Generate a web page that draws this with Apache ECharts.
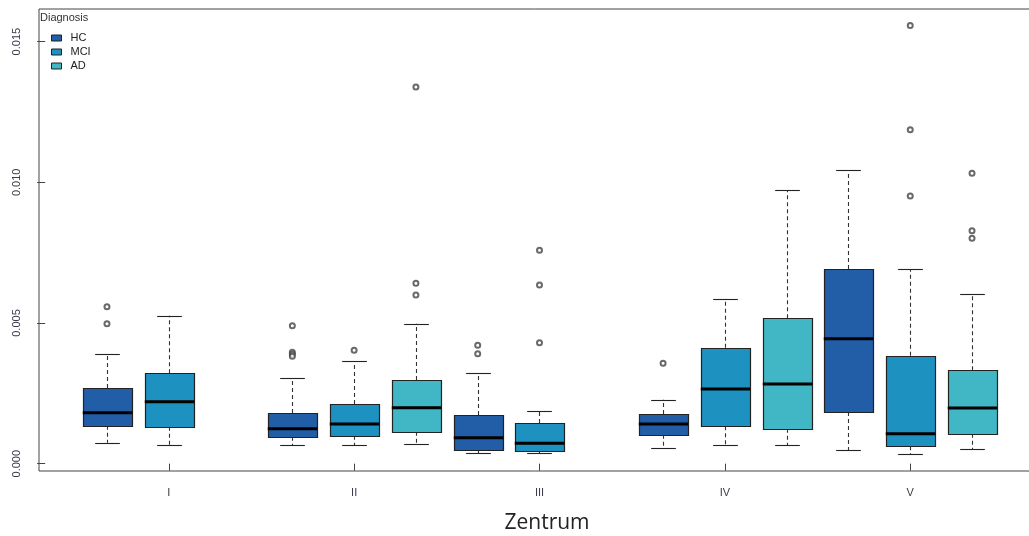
<!DOCTYPE html>
<html>
<head>
<meta charset="utf-8">
<script src="https://cdn.jsdelivr.net/npm/echarts@6/dist/echarts.min.js"></script>
<style>
html,body{margin:0;padding:0;background:#fff;}
#chart{width:1029px;height:536px;}
</style>
</head>
<body>
<div id="chart"></div>
<script>
// ---------- data ----------
const zentren = ['I', 'II', 'III', 'IV', 'V'];
const diagnoses = ['HC', 'MCI', 'AD'];
// [lower whisker, Q1, median, Q3, upper whisker] per Zentrum (null = no group)
const hcStats = [
  [0.000746, 0.001351, 0.001813, 0.002691, 0.003889],
  [0.000654, 0.000960, 0.001244, 0.001800, 0.003046],
  [0.000380, 0.000498, 0.000924, 0.001730, 0.003213],
  [0.000569, 0.001031, 0.001410, 0.001767, 0.002275],
  [0.000476, 0.001838, 0.004443, 0.006920, 0.010430]
];
const mciStats = [
  [0.000654, 0.001315, 0.002204, 0.003213, 0.005260],
  [0.000654, 0.000995, 0.001410, 0.002120, 0.003650],
  [0.000380, 0.000462, 0.000725, 0.001447, 0.001873],
  [0.000665, 0.001329, 0.002655, 0.004123, 0.005854],
  [0.000345, 0.000618, 0.001066, 0.003839, 0.006910]
];
const adStats = [
  null,
  [0.000690, 0.001137, 0.001990, 0.002975, 0.004976],
  null,
  [0.000665, 0.001244, 0.002833, 0.005168, 0.009730],
  [0.000512, 0.001066, 0.001980, 0.003320, 0.006030]
];
const hcOutliers = [[0.00558, 0.004976], [0.004905, 0.00396, 0.00389, 0.00382], [0.004208, 0.00391], [0.00357], []];
const mciOutliers = [[], [0.00403], [0.007585, 0.00635, 0.0043], [], [0.01557, 0.01187, 0.009515]];
const adOutliers = [[], [0.01339, 0.00641, 0.005996], [], [], [0.01032, 0.00828, 0.00801]];
const yTicks = [0, 0.005, 0.010, 0.015];

// ---------- build ----------
const colors = ['#225ea8', '#1d91c0', '#41b6c4'];
const allStats = [hcStats, mciStats, adStats];
const allOutliers = [hcOutliers, mciOutliers, adOutliers];
const xTicks = zentren.map((z, i) => 3 * i + 2);

function renderBox(params, api) {
  const x = api.value(0);
  const lo = api.coord([x, api.value(1)]);
  const q1 = api.coord([x, api.value(2)]);
  const md = api.coord([x, api.value(3)]);
  const q3 = api.coord([x, api.value(4)]);
  const hi = api.coord([x, api.value(5)]);
  const half = api.size([0.4, 0])[0];
  const cx = Math.round(lo[0]) + 0.5;
  const capH = half / 2;
  const fill = api.visual('color');
  const dashStyle = { stroke: '#333', lineWidth: 1.1, lineDash: [4, 3] };
  const solid = { stroke: '#222', lineWidth: 1.1 };
  return {
    type: 'group',
    children: [
      { type: 'line', shape: { x1: cx, y1: q3[1], x2: cx, y2: hi[1] }, style: dashStyle },
      { type: 'line', shape: { x1: cx, y1: q1[1], x2: cx, y2: lo[1] }, style: dashStyle },
      { type: 'line', shape: { x1: cx - capH, y1: Math.round(hi[1]) + 0.5, x2: cx + capH, y2: Math.round(hi[1]) + 0.5 }, style: solid },
      { type: 'line', shape: { x1: cx - capH, y1: Math.round(lo[1]) + 0.5, x2: cx + capH, y2: Math.round(lo[1]) + 0.5 }, style: solid },
      { type: 'rect', shape: { x: Math.round(cx - half) + 0.5, y: Math.round(q3[1]) + 0.5, width: Math.round(2 * half), height: Math.round(q1[1]) - Math.round(q3[1]) },
        style: { fill: fill, stroke: '#222', lineWidth: 1.2 } },
      { type: 'line', shape: { x1: cx - half, y1: md[1], x2: cx + half, y2: md[1] }, style: { stroke: '#000', lineWidth: 3 } }
    ]
  };
}

const series = [];
diagnoses.forEach((d, j) => {
  const data = [];
  allStats[j].forEach((s, i) => {
    if (s) data.push([3 * i + j + 1].concat(s));
  });
  series.push({
    name: d,
    type: 'custom',
    renderItem: renderBox,
    itemStyle: { color: colors[j] },
    encode: { x: 0, y: [1, 2, 3, 4, 5] },
    data: data,
    z: 2
  });
  const out = [];
  allOutliers[j].forEach((arr, i) => arr.forEach(v => out.push([3 * i + j + 1, v])));
  series.push({
    name: d + ' outliers',
    type: 'scatter',
    symbol: 'emptyCircle',
    symbolSize: 5,
    itemStyle: { color: '#444', borderColor: '#444', borderWidth: 1 },
    data: out,
    z: 3
  });
});

const chart = echarts.init(document.getElementById('chart'), null, { renderer: 'canvas' });
chart.setOption({
  animation: false,
  backgroundColor: '#fff',
  textStyle: { fontFamily: 'Liberation Sans, Arial, sans-serif' },
  grid: { left: 39, top: 9, bottom: 65, right: -11, show: true, borderColor: '#444', borderWidth: 1, containLabel: false, outerBoundsMode: 'none' },
  legend: {
    data: diagnoses,
    orient: 'vertical',
    left: 51, top: 31, padding: 0,
    itemWidth: 10, itemHeight: 6, itemGap: 0,
    icon: 'rect',
    itemStyle: { borderColor: '#222', borderWidth: 1 },
    textStyle: { fontSize: 11, color: '#222', lineHeight: 14, padding: [0, 0, 0, 4], fontFamily: 'Liberation Sans, Arial, sans-serif' },
    selectedMode: false
  },
  xAxis: {
    type: 'value', min: -0.1, max: 16.1,
    splitLine: { show: false },
    axisLine: { show: false },
    axisTick: { show: true, length: 7, lineStyle: { color: '#444' }, customValues: xTicks },
    axisLabel: { customValues: xTicks, margin: 16, fontSize: 11, color: '#3a3a4a',
      formatter: v => zentren[Math.round((v - 2) / 3)] }
  },
  yAxis: {
    type: 'value', min: -0.00026, max: 0.01616,
    splitLine: { show: false },
    axisLine: { show: false },
    axisTick: { show: true, length: 8, lineStyle: { color: '#444' }, customValues: yTicks },
    axisLabel: { customValues: yTicks, rotate: 90, margin: 17, fontSize: 11, color: '#3a3a4a',
      formatter: v => v.toFixed(3) }
  },
  graphic: [
    { type: 'text', left: 40, top: 12, style: { text: 'Diagnosis', font: '11px "Liberation Sans", Arial, sans-serif', fill: '#333' } },
    { type: 'text', x: 547, y: 523, style: { text: 'Zentrum', font: '21px "Open Sans", sans-serif', fill: '#222', align: 'center', verticalAlign: 'middle' } }
  ],
  series: series
});
</script>
</body>
</html>
